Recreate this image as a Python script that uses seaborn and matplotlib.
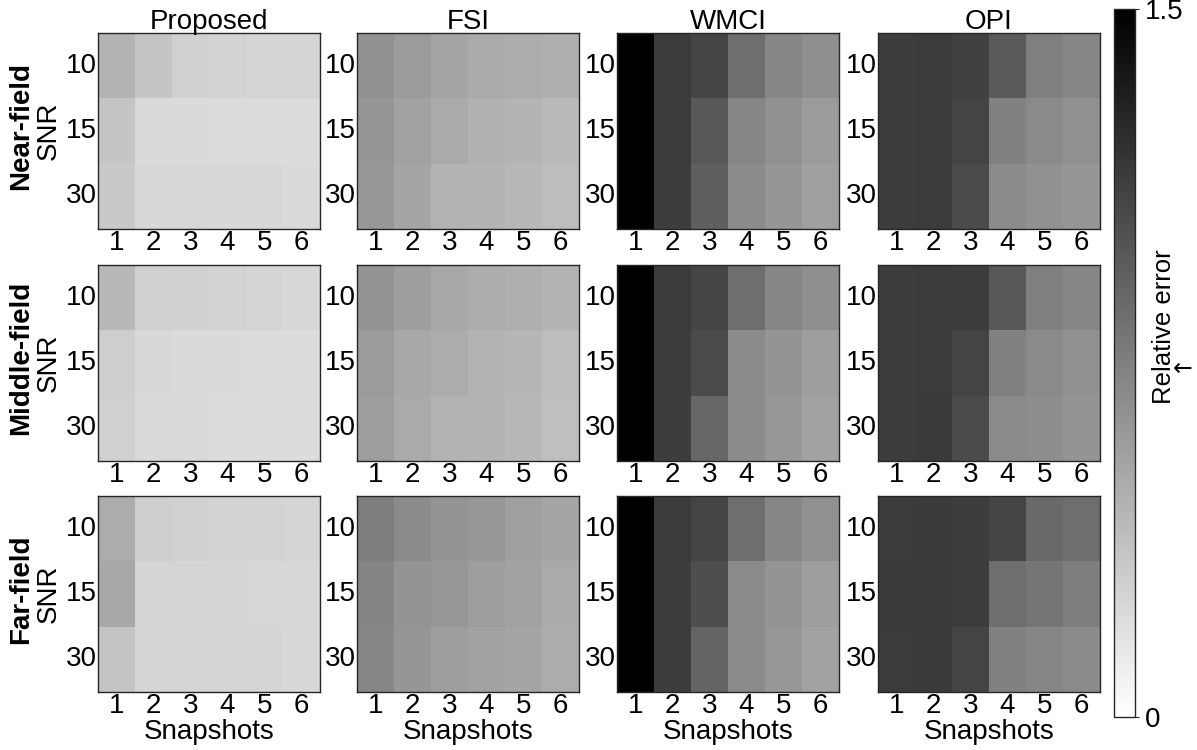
import numpy as np
import pandas as pd
import matplotlib
matplotlib.use("Agg")
import matplotlib.pyplot as plt
import seaborn as sns

# Axis categories
snr_levels = [10, 15, 30]
snapshots = [1, 2, 3, 4, 5, 6]
methods = ["Proposed", "FSI", "WMCI", "OPI"]
fields = ["Near-field", "Middle-field", "Far-field"]

# Relative error, rows = SNR (10, 15, 30), columns = snapshots 1..6
proposed_near = [[0.45, 0.34, 0.28, 0.26, 0.25, 0.25],
                 [0.34, 0.22, 0.22, 0.21, 0.21, 0.21],
                 [0.32, 0.24, 0.24, 0.23, 0.23, 0.22]]
proposed_middle = [[0.42, 0.28, 0.27, 0.26, 0.25, 0.24],
                   [0.29, 0.23, 0.22, 0.22, 0.21, 0.21],
                   [0.28, 0.22, 0.22, 0.21, 0.21, 0.21]]
proposed_far = [[0.49, 0.29, 0.28, 0.26, 0.26, 0.25],
                [0.51, 0.25, 0.25, 0.25, 0.24, 0.24],
                [0.35, 0.25, 0.25, 0.25, 0.25, 0.24]]

fsi_near = [[0.65, 0.59, 0.53, 0.50, 0.49, 0.47],
            [0.62, 0.55, 0.50, 0.46, 0.44, 0.41],
            [0.61, 0.53, 0.45, 0.44, 0.42, 0.39]]
fsi_middle = [[0.63, 0.57, 0.51, 0.49, 0.47, 0.44],
              [0.59, 0.51, 0.49, 0.45, 0.43, 0.39],
              [0.57, 0.50, 0.45, 0.44, 0.42, 0.38]]
fsi_far = [[0.76, 0.68, 0.63, 0.61, 0.56, 0.53],
           [0.72, 0.63, 0.61, 0.57, 0.55, 0.50],
           [0.71, 0.62, 0.57, 0.55, 0.53, 0.49]]

wmci_near = [[1.50, 1.15, 1.10, 0.85, 0.71, 0.66],
             [1.50, 1.15, 0.98, 0.71, 0.65, 0.59],
             [1.50, 1.14, 0.94, 0.68, 0.62, 0.56]]
wmci_middle = [[1.50, 1.15, 1.09, 0.85, 0.71, 0.66],
               [1.50, 1.14, 1.06, 0.68, 0.63, 0.57],
               [1.50, 1.14, 0.90, 0.68, 0.61, 0.55]]
wmci_far = [[1.50, 1.15, 1.10, 0.85, 0.71, 0.65],
            [1.50, 1.14, 1.04, 0.68, 0.63, 0.57],
            [1.50, 1.14, 0.91, 0.68, 0.61, 0.55]]

opi_near = [[1.14, 1.15, 1.12, 0.97, 0.75, 0.71],
            [1.14, 1.15, 1.10, 0.74, 0.69, 0.65],
            [1.14, 1.15, 1.06, 0.68, 0.65, 0.62]]
opi_middle = [[1.14, 1.15, 1.14, 0.98, 0.75, 0.71],
              [1.14, 1.15, 1.10, 0.74, 0.69, 0.65],
              [1.14, 1.16, 1.06, 0.69, 0.67, 0.63]]
opi_far = [[1.15, 1.16, 1.14, 1.10, 0.88, 0.85],
           [1.16, 1.16, 1.14, 0.85, 0.81, 0.76],
           [1.15, 1.16, 1.10, 0.74, 0.71, 0.68]]

grid = [[proposed_near, fsi_near, wmci_near, opi_near],
        [proposed_middle, fsi_middle, wmci_middle, opi_middle],
        [proposed_far, fsi_far, wmci_far, opi_far]]

vmin, vmax = 0.0, 1.5

sns.set_theme(style="white")
plt.rcParams["font.family"] = ["Liberation Sans", "DejaVu Sans"]
plt.rcParams["text.color"] = "black"
plt.rcParams["axes.labelcolor"] = "black"
plt.rcParams["xtick.color"] = "black"
plt.rcParams["ytick.color"] = "black"
FS = 20
FRAME = "#262626"

W, H = 1197, 750
fig = plt.figure(figsize=(W / 100, H / 100), dpi=100)

lefts = [98, 357, 617, 878]
tops = [33, 265, 496]
pw, ph = 222, 196

mappable = None
for r, field in enumerate(fields):
    for c, method in enumerate(methods):
        ax = fig.add_axes([lefts[c] / W, 1 - (tops[r] + ph) / H, pw / W, ph / H])
        df = pd.DataFrame(grid[r][c], index=snr_levels, columns=snapshots)
        sns.heatmap(df, ax=ax, cmap="gray_r", vmin=vmin, vmax=vmax, cbar=False,
                    xticklabels=snapshots, yticklabels=snr_levels)
        mappable = ax.collections[0]
        for sp in ax.spines.values():
            sp.set_visible(True)
            sp.set_color(FRAME)
            sp.set_linewidth(1.0)
        ax.tick_params(axis="both", which="major", length=0, labelsize=FS,
                       labelcolor="black", pad=1)
        ax.set_yticklabels([str(s) for s in snr_levels], rotation=0)
        ax.set_xticklabels([str(s) for s in snapshots], rotation=0)
        # small inward ticks, as on a boxed axis
        ax.set_xticks([1.5, 3.5, 5.5], minor=True)
        ax.set_yticks([1, 2], minor=True)
        ax.tick_params(axis="x", which="minor", direction="in", length=4,
                       width=0.8, color=FRAME, top=True, bottom=True)
        ax.tick_params(axis="y", which="minor", direction="in", length=4,
                       width=0.8, color=FRAME, left=True, right=True)
        ax.set_xlabel("")
        ax.set_ylabel("")
        if r == 0:
            ax.set_title(method, fontsize=FS, pad=3, color="black")
        if r == len(fields) - 1:
            ax.set_xlabel("Snapshots", fontsize=FS, labelpad=0)
        if c == 0:
            ax.set_ylabel("SNR", fontsize=FS, labelpad=3)
            ycen = 1 - (tops[r] + ph / 2 - 5) / H
            fig.text(21 / W, ycen, field, rotation=90, fontsize=FS,
                     fontweight="bold", ha="center", va="center")

# Shared colour bar
cax = fig.add_axes([1114 / W, 1 - 717 / H, 21 / W, (717 - 9) / H])
cb = fig.colorbar(mappable, cax=cax)
cb.set_ticks([0, 1.5])
cb.set_ticklabels(["0", "1.5"])
cb.ax.tick_params(labelsize=FS, length=3, width=0.8, color=FRAME, pad=4,
                  labelcolor="black")
cb.outline.set_edgecolor(FRAME)
cb.outline.set_linewidth(1.0)
fig.text(1164 / W, 1 - 327 / H, "Relative error", rotation=90, fontsize=18.5,
         ha="center", va="center")
fig.text(1183 / W, 1 - 369 / H, "\u2190", fontsize=17, family="DejaVu Sans",
         ha="center", va="center")

fig.savefig("out.png", dpi=100)
